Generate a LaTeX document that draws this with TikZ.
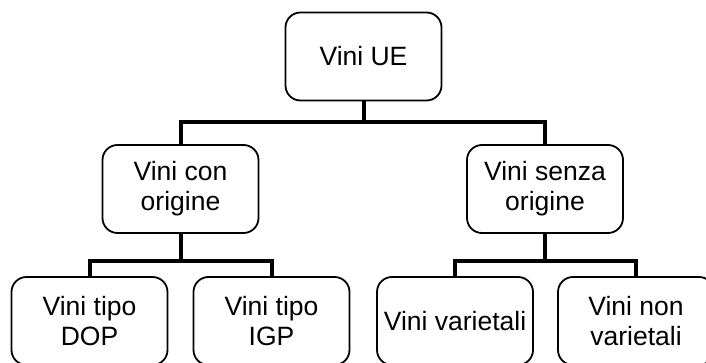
\documentclass[tikz,border=0pt]{standalone}
\usepackage{fontspec}
\setmainfont{Liberation Sans}
\usepackage{tikz}
\usetikzlibrary{calc}

\tikzset{
  box/.style={draw, line width=1.8pt, rounded corners=15pt, fill=white, align=center,
    minimum width=156pt, minimum height=88pt, inner sep=0pt,
    font=\fontsize{26.5}{30}\selectfont},
  bus/.style={line width=4pt, line join=miter}
}

\begin{document}
\begin{tikzpicture}[x=1pt,y=-1pt]
\clip (0,0) rectangle (706,363);
\node[box] (ue) at (363.5,56.5) {Vini UE};
\node[box] (con) at (180.5,189) {Vini con\\origine};
\node[box] (senza) at (545,189) {Vini senza\\origine};
\node[box] (dop) at (89.5,321) {Vini tipo\\DOP};
\node[box] (igp) at (271.5,321) {Vini tipo\\IGP};
\node[box] (var) at (455,321) {Vini varietali};
\node[box] (nonvar) at (636,321) {Vini non\\varietali};
\draw[bus] (ue.south) -- ++(0,23);
\draw[bus] (con.north) -- ++(0,-22) -| (senza.north);
\draw[bus] (con.south) -- ++(0,29);
\draw[bus] (dop.north) -- ++(0,-15) -| (igp.north);
\draw[bus] (senza.south) -- ++(0,29);
\draw[bus] (var.north) -- ++(0,-15) -| (nonvar.north);
\end{tikzpicture}
\end{document}
